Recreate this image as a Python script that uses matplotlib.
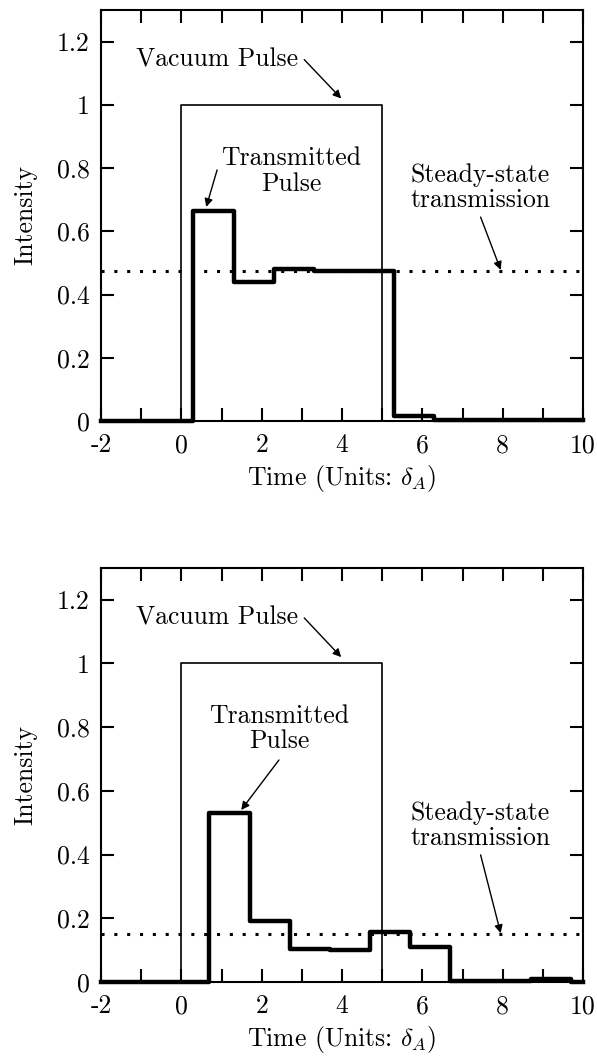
import matplotlib
matplotlib.use("Agg")
import matplotlib.pyplot as plt
from matplotlib.ticker import FixedLocator, FuncFormatter

plt.rcParams['font.family'] = 'serif'
plt.rcParams['font.serif'] = ['cmr10']
plt.rcParams['mathtext.fontset'] = 'cm'
plt.rcParams['axes.unicode_minus'] = False
plt.rcParams['axes.formatter.use_mathtext'] = True

# vacuum pulse (same in both panels)
vac_t = [-2, 0, 5, 10]
vac_i = [0, 1, 0, 0]

# upper panel: transmitted pulse
top_t = [-2, 0.3, 1.3, 2.3, 3.3, 5.3, 6.3, 10]
top_i = [0, 0.665, 0.44, 0.482, 0.475, 0.015, 0.002, 0.002]
top_steady = 0.475

# lower panel: transmitted pulse
bot_t = [-2, 0.7, 1.7, 2.7, 3.7, 4.7, 5.7, 6.7, 8.7, 9.7, 10]
bot_i = [0, 0.53, 0.19, 0.105, 0.10, 0.158, 0.11, 0.004, 0.008, 0.0, 0.0]
bot_steady = 0.15

x_ticks = list(range(-2, 11))
x_labels = [-2, 0, 2, 4, 6, 8, 10]
y_ticks = [0, 0.2, 0.4, 0.6, 0.8, 1.0, 1.2]

fs = 18.5


def fmt_y(v, pos):
    if abs(v - round(v)) < 1e-9:
        return "%d" % round(v)
    return "%.1f" % v


def fmt_x(v, pos):
    iv = int(round(v))
    return str(iv) if iv in x_labels else ""


def arrow(ax, head, tail):
    ax.annotate("", xy=head, xytext=tail,
                arrowprops=dict(arrowstyle='-|>', color='black', lw=1.0,
                                mutation_scale=12, shrinkA=0, shrinkB=0))


def panel(ax, t, i, steady, trans_txt, trans_arrow, ss_txt_y, ss_tail_y):
    ax.step(vac_t, vac_i, where='post', color='black', lw=1.2, clip_on=False)
    ax.step(t, i, where='post', color='black', lw=3.2, clip_on=False)
    ax.axhline(steady, color='black', lw=2.2, ls=(0, (1, 3.2)))

    ax.set_xlim(-2, 10)
    ax.set_ylim(0, 1.3)
    ax.xaxis.set_major_locator(FixedLocator(x_ticks))
    ax.xaxis.set_major_formatter(FuncFormatter(fmt_x))
    ax.yaxis.set_major_locator(FixedLocator(y_ticks))
    ax.yaxis.set_major_formatter(FuncFormatter(fmt_y))
    ax.tick_params(direction='in', length=9.5, width=1.5, top=True, right=True,
                   labelsize=fs)
    ax.tick_params(axis='x', pad=9)
    ax.tick_params(axis='y', pad=8)
    for s in ax.spines.values():
        s.set_linewidth(1.5)

    ax.set_xlabel(r"Time (Units: $\delta_A$)", fontsize=fs, labelpad=4)
    ax.set_ylabel("Intensity", fontsize=fs, labelpad=14)

    ax.text(0.9, 1.143, "Vacuum Pulse", fontsize=fs, ha='center', va='center')
    arrow(ax, (3.98, 1.02), (3.06, 1.143))

    tx, ty = trans_txt
    ax.text(tx, ty, "Transmitted\nPulse", fontsize=fs, ha='center', va='center',
            linespacing=1.1)
    arrow(ax, trans_arrow[0], trans_arrow[1])

    ax.text(7.45, ss_txt_y, "Steady-state\ntransmission", fontsize=fs,
            ha='center', va='center', linespacing=1.1)
    arrow(ax, (7.95, steady + 0.003), (7.45, ss_tail_y))


fig = plt.figure(figsize=(5.97, 10.61), dpi=100)
ax1 = fig.add_axes([0.1692, 0.6032, 0.8074, 0.3874])
ax2 = fig.add_axes([0.1692, 0.0745, 0.8074, 0.3902])

panel(ax1, top_t, top_i, top_steady, (2.73, 0.79), ((0.62, 0.677), (0.89, 0.794)),
      0.738, 0.645)
panel(ax2, bot_t, bot_i, bot_steady, (2.43, 0.796), ((1.49, 0.54), (2.43, 0.697)),
      0.491, 0.399)

fig.savefig("out.png", dpi=100)
